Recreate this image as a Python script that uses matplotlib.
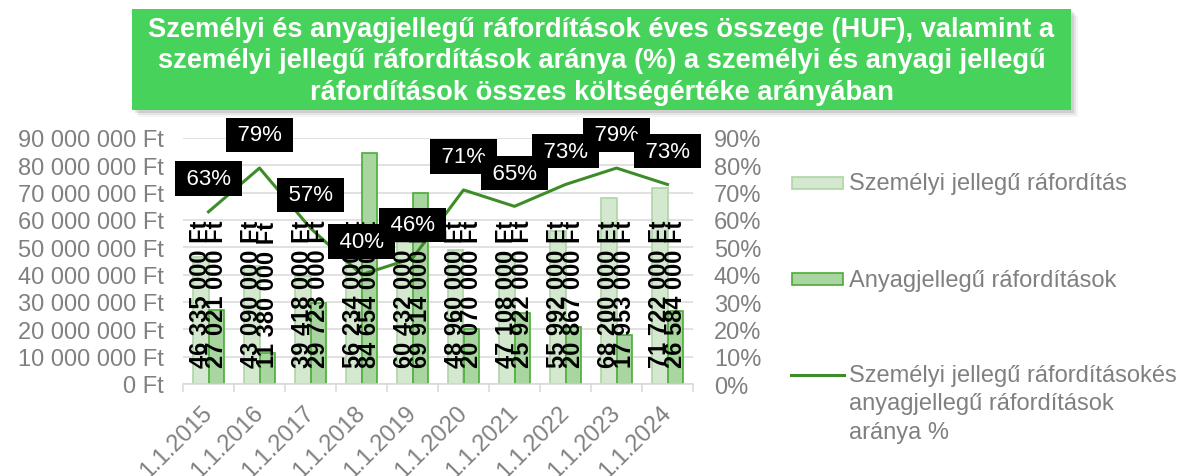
import matplotlib.pyplot as plt
import numpy as np
from matplotlib.lines import Line2D
from matplotlib.patches import Rectangle
from matplotlib.ticker import FuncFormatter

plt.rcParams['font.family'] = ['Liberation Sans', 'DejaVu Sans']

# data
years = ["1.1.2015", "1.1.2016", "1.1.2017", "1.1.2018", "1.1.2019",
         "1.1.2020", "1.1.2021", "1.1.2022", "1.1.2023", "1.1.2024"]
personal = [46335000, 43090000, 39418000, 56234000, 60432000,
            48960000, 47108000, 55992000, 68200000, 71722000]
material = [27021000, 11380000, 29723000, 84654000, 69914000,
            20070000, 25922000, 20867000, 17953000, 26584000]
ratio_pct = [63, 79, 57, 40, 46, 71, 65, 73, 79, 73]

title_lines = [
    "Személyi és anyagjellegű ráfordítások éves összege (HUF), valamint a",
    "személyi jellegű ráfordítások aránya (%) a személyi és anyagi jellegű",
    "ráfordítások összes költségértéke arányában",
]
legend_labels = [
    "Személyi jellegű ráfordítás",
    "Anyagjellegű ráfordítások",
    "Személyi jellegű ráfordításokés\nanyagjellegű ráfordítások\naránya %",
]

PERS_FILL, PERS_EDGE = "#d4e8d0", "#aed4a6"
MAT_FILL, MAT_EDGE = "#a8d5a0", "#4cab38"
LINE_C = "#3d8c27"
GRID_C = "#d9d9d9"
TXT_GRAY = "#808080"
TITLE_BG = "#47d35b"

W, H = 1188, 477


def fx(px):
    return px / W


def fy(py):
    return 1 - py / H


def fmt_ft(v, _=None):
    return f"{int(round(v)):,}".replace(",", " ") + " Ft"


fig = plt.figure(figsize=(W / 100, H / 100), dpi=100)

# title box with a soft shadow
for k, a in [(7, 0.06), (5, 0.10), (3, 0.16)]:
    fig.patches.append(Rectangle((fx(132 + k), fy(111 + k)), fx(1071) - fx(132), fy(10) - fy(111),
                                 transform=fig.transFigure, fc="#606060", ec="none", alpha=a))
fig.patches.append(Rectangle((fx(132), fy(111)), fx(1071) - fx(132), fy(10) - fy(111),
                             transform=fig.transFigure, fc=TITLE_BG, ec="none"))
for i, line in enumerate(title_lines):
    fig.text(fx(601.5), fy(30 + 31.5 * i), line, ha="center", va="center",
             color="white", fontsize=19.6, fontweight="bold")

ax = fig.add_axes([fx(183), fy(385), fx(693) - fx(183), fy(139) - fy(385)])
x = np.arange(len(years))
w = 0.3
ax.bar(x - w / 2, personal, w, color=PERS_FILL, edgecolor=PERS_EDGE, linewidth=1.2, zorder=2)
ax.bar(x + w / 2, material, w, color=MAT_FILL, edgecolor=MAT_EDGE, linewidth=1.2, zorder=2)

ax.set_xlim(-0.5, len(years) - 0.5)
ax.set_ylim(0, 90e6)
ax.set_yticks(np.arange(0, 90e6 + 1, 10e6))
ax.yaxis.set_major_formatter(FuncFormatter(fmt_ft))
ax.grid(axis="y", color=GRID_C, lw=1.1)
ax.set_axisbelow(True)
for s in ["top", "left", "right"]:
    ax.spines[s].set_visible(False)
ax.spines["bottom"].set_color(GRID_C)
ax.spines["bottom"].set_linewidth(1.1)
ax.tick_params(axis="y", length=0, pad=14, labelsize=17, labelcolor=TXT_GRAY)
ax.set_xticks(x, years)
ax.set_xticks(np.arange(-0.5, len(years), 1), minor=True)
ax.tick_params(axis="x", which="major", length=0, pad=18, labelsize=17, labelcolor=TXT_GRAY)
ax.tick_params(axis="x", which="minor", length=6, width=1.1, color=GRID_C)
for lbl in ax.get_xticklabels():
    lbl.set_rotation(45)
    lbl.set_ha("right")
    lbl.set_va("center")
    lbl.set_rotation_mode("anchor")

ax2 = ax.twinx()
ax2.set_ylim(0, 0.9)
ax2.set_yticks(np.arange(0, 0.91, 0.1))
ax2.yaxis.set_major_formatter(FuncFormatter(lambda v, _: f"{v * 100:.0f}%"))
ax2.tick_params(axis="y", length=0, pad=15, labelsize=17, labelcolor=TXT_GRAY)
for s in ax2.spines.values():
    s.set_visible(False)

ratio = np.array(ratio_pct) / 100
ax2.plot(x, ratio, color=LINE_C, lw=2.2, zorder=2)

# bar value labels, drawn on ax2 so they sit above the line
for i in range(len(years)):
    for xb, v in [(x[i] - w / 2, personal[i]), (x[i] + w / 2, material[i])]:
        ax2.annotate(fmt_ft(v), xy=(xb, 0), xycoords=ax.transData, xytext=(0, 12),
                     textcoords="offset points", rotation=90, ha="center", va="bottom",
                     fontsize=17, fontweight="bold", color="black", zorder=3)

for i in range(len(years)):
    ax2.annotate(f"\u2009{ratio_pct[i]}%\u2009", xy=(x[i], ratio[i]), xytext=(0, 24),
                 textcoords="offset points", ha="center", va="center", fontsize=16,
                 color="white", zorder=4, annotation_clip=False,
                 bbox=dict(boxstyle="square,pad=0.3", fc="black", ec="none"))

# legend on the right
fig.patches.append(Rectangle((fx(792), fy(190)), fx(843) - fx(792), fy(178) - fy(190),
                             transform=fig.transFigure, fc=PERS_FILL, ec=PERS_EDGE, lw=1.2))
fig.patches.append(Rectangle((fx(792), fy(286)), fx(843) - fx(792), fy(274) - fy(286),
                             transform=fig.transFigure, fc=MAT_FILL, ec=MAT_EDGE, lw=1.2))
fig.add_artist(Line2D([fx(791), fx(844)], [fy(376), fy(376)], transform=fig.transFigure,
                      color=LINE_C, lw=2.2))
fig.text(fx(849), fy(184), legend_labels[0], ha="left", va="center", fontsize=17, color=TXT_GRAY)
fig.text(fx(849), fy(281), legend_labels[1], ha="left", va="center", fontsize=17, color=TXT_GRAY)
for j, part in enumerate(legend_labels[2].split("\n")):
    fig.text(fx(849), fy(376 + 28.5 * j), part, ha="left", va="center", fontsize=17, color=TXT_GRAY)

fig.savefig("out.png", dpi=100)
